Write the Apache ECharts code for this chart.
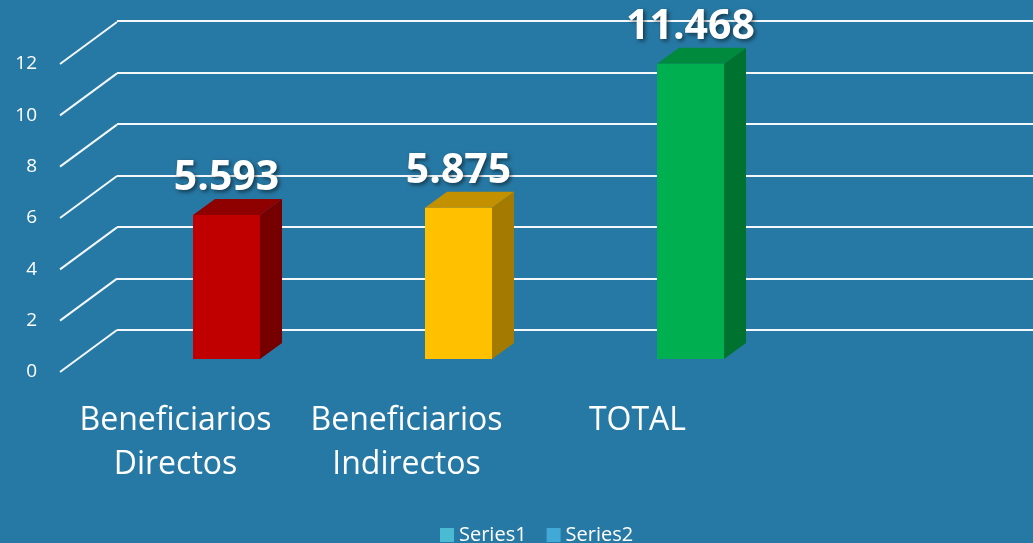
<!DOCTYPE html>
<html>
<head>
<meta charset="utf-8">
<script src="https://cdn.jsdelivr.net/npm/echarts@6/dist/echarts.min.js"></script>
<style>
  html, body { margin: 0; padding: 0; background: #2779a5; }
  #main { width: 1033px; height: 543px; }
</style>
</head>
<body>
<div id="main"></div>
<script>
// datos
var categories = ['Beneficiarios\nDirectos', 'Beneficiarios\nIndirectos', 'TOTAL', ''];
var values = [5.593, 5.875, 11.468];
var valueLabels = ['5.593', '5.875', '11.468'];
var yTicks = [0, 2, 4, 6, 8, 10, 12];

// colores de cada barra: frente, tapa, lado
var barColors = [
  ['#c00000', '#8f0000', '#760000'],
  ['#ffc000', '#c39100', '#a47b00'],
  ['#00b050', '#008a3e', '#00722f']
];

var myChart = echarts.init(document.getElementById('main'));

var depthX = 22, depthY = -16, barW = 67;

function renderBar (params, api) {
  var i = params.dataIndex;
  var top = api.coord([api.value(0), api.value(1)]);
  var base = api.coord([api.value(0), 0]);
  var x0 = top[0] - barW / 2, x1 = top[0] + barW / 2;
  var yt = top[1], yb = base[1];
  var c = barColors[i];
  return {
    type: 'group',
    children: [
      { type: 'polygon', shape: { points: [[x1, yt], [x1 + depthX, yt + depthY], [x1 + depthX, yb + depthY], [x1, yb]] },
        style: { fill: c[2] } },
      { type: 'polygon', shape: { points: [[x0, yt], [x0 + depthX, yt + depthY], [x1 + depthX, yt + depthY], [x1, yt]] },
        style: { fill: c[1] } },
      { type: 'rect', shape: { x: x0, y: yt, width: barW, height: yb - yt },
        style: { fill: c[0] } },
      { type: 'text', z2: 10,
        style: {
          text: valueLabels[i], x: top[0], y: yt - 16,
          align: 'center', verticalAlign: 'bottom',
          fill: '#ffffff', fontSize: 41, fontWeight: 'bold', fontFamily: 'Open Sans',
          textShadowColor: 'rgba(0,0,0,0.55)', textShadowBlur: 4,
          textShadowOffsetX: 2, textShadowOffsetY: 2
        } }
    ]
  };
}

// lineas diagonales del piso / pared
function renderSlant (params, api) {
  var p = api.coord([0, api.value(0)]);
  var x = params.coordSys.x;
  return {
    type: 'line',
    shape: { x1: x, y1: p[1], x2: x + 57, y2: p[1] - 42 },
    style: { stroke: '#ffffff', lineWidth: 2, opacity: 0.95 }
  };
}

var option = {
  backgroundColor: '#2779a5',
  animation: false,
  legend: {
    left: 435,
    top: 520,
    itemWidth: 14,
    itemHeight: 14,
    itemGap: 20,
    icon: 'rect',
    textStyle: { color: '#ffffff', fontSize: 20, fontFamily: 'Open Sans' },
    data: [
      { name: 'Series1', itemStyle: { color: '#4bbad3' } },
      { name: 'Series2', itemStyle: { color: '#42a9d6' } }
    ]
  },
  grid: [
    // pared del fondo
    { left: 117, right: 0, top: 21, bottom: 213 },
    // plano frontal
    { left: 60, width: 924, top: 64, bottom: 171 },
    // barras (centros de las barras)
    { left: 226.5, width: 696, top: 50, bottom: 184 }
  ],
  xAxis: [
    { gridIndex: 0, type: 'category', data: categories, show: false },
    {
      gridIndex: 1, type: 'category', data: categories,
      axisLine: { show: false }, axisTick: { show: false },
      axisLabel: {
        color: '#ffffff', fontSize: 32, fontFamily: 'Open Sans',
        lineHeight: 44, margin: 27, interval: 0
      }
    },
    { gridIndex: 2, type: 'category', data: categories, show: false, boundaryGap: false }
  ],
  yAxis: [
    {
      gridIndex: 0, type: 'value', min: 0, max: 12, interval: 2,
      axisLabel: { show: false }, axisLine: { show: false }, axisTick: { show: false },
      splitLine: { lineStyle: { color: '#ffffff', width: 2, opacity: 0.95 } }
    },
    {
      gridIndex: 1, type: 'value', min: 0, max: 12, interval: 2,
      axisLine: { show: false }, axisTick: { show: false }, splitLine: { show: false },
      axisLabel: { color: '#ffffff', fontSize: 19, fontFamily: 'Open Sans', margin: 23 }
    },
    { gridIndex: 2, type: 'value', min: 0, max: 12, show: false, splitLine: { show: false } }
  ],
  series: [
    {
      type: 'custom', name: 'grid', xAxisIndex: 1, yAxisIndex: 1,
      renderItem: renderSlant, silent: true,
      data: yTicks.map(function (v) { return [v]; }),
      encode: { y: 0 }
    },
    {
      type: 'custom', name: 'Series1', xAxisIndex: 2, yAxisIndex: 2,
      renderItem: renderBar,
      itemStyle: { color: '#4bbad3' },
      data: values.map(function (v, i) { return [i, v]; }),
      z: 5
    },
    {
      type: 'bar', name: 'Series2', xAxisIndex: 2, yAxisIndex: 2,
      itemStyle: { color: '#42a9d6' },
      data: []
    }
  ]
};

myChart.setOption(option);
</script>
</body>
</html>
